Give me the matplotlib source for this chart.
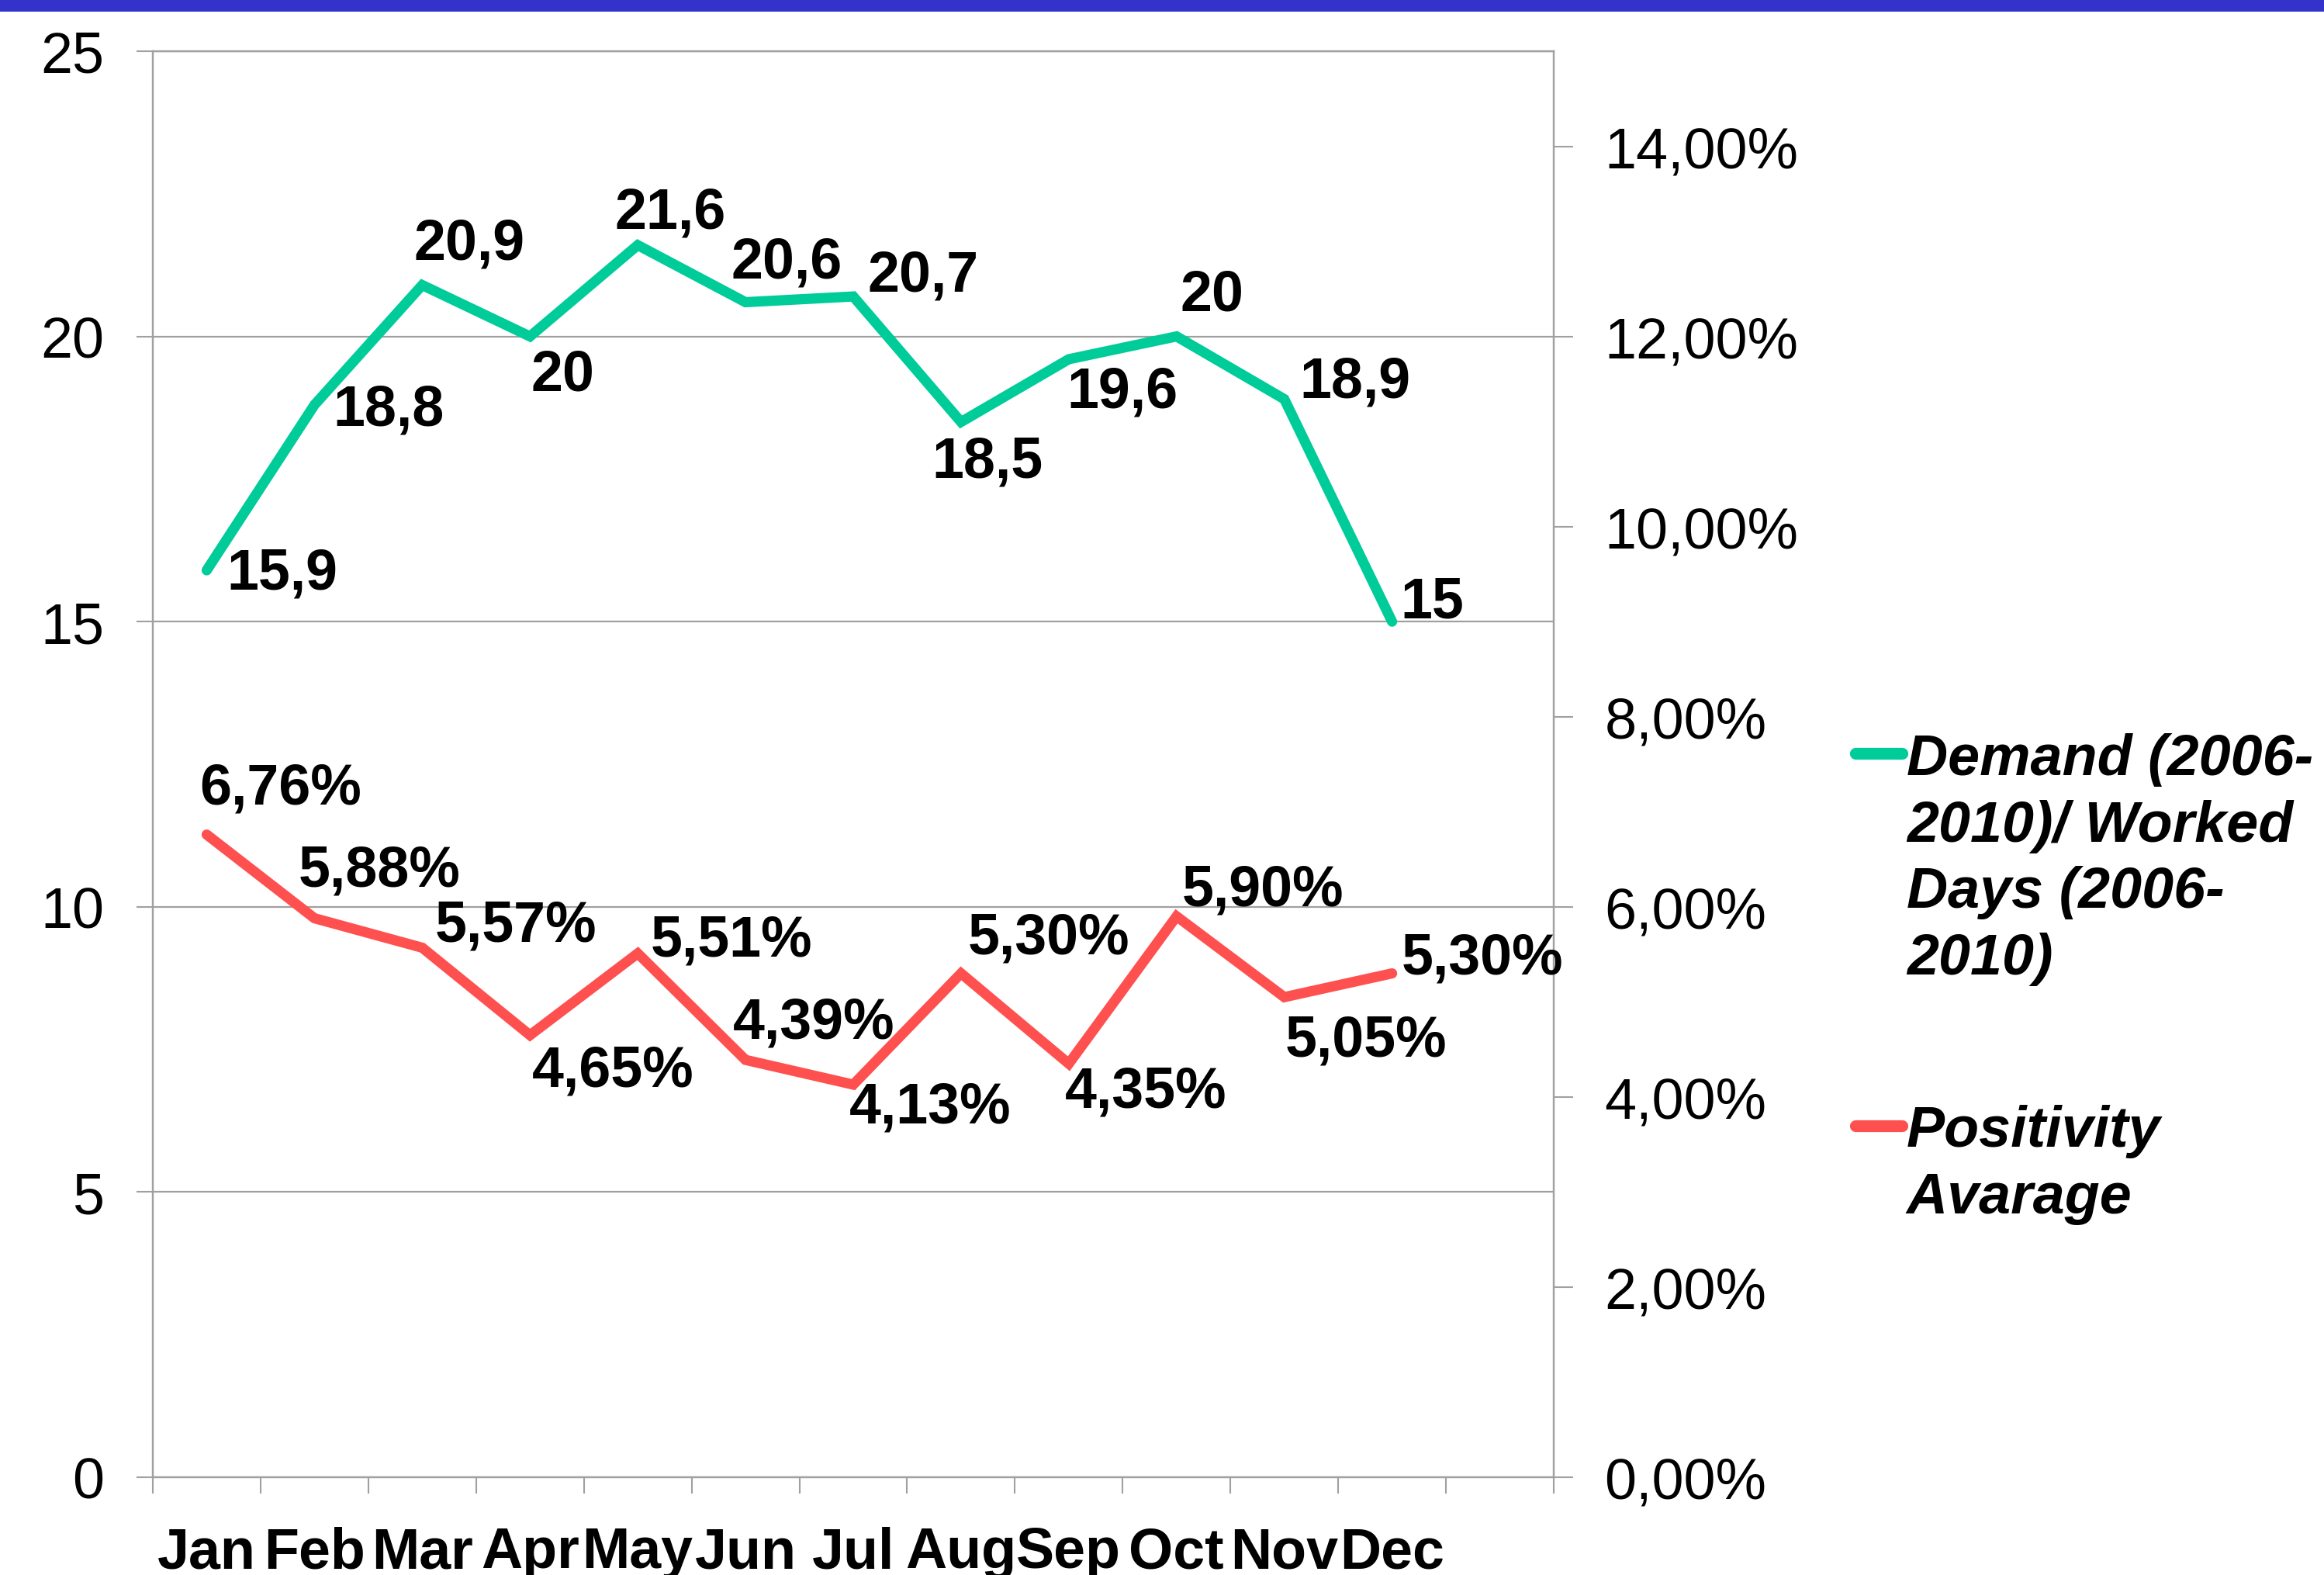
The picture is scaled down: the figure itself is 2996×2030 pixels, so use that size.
import numpy as np
import matplotlib
matplotlib.use("Agg")
import matplotlib.pyplot as plt
from matplotlib.lines import Line2D
from matplotlib.patches import Rectangle
from matplotlib.ticker import FuncFormatter, FixedLocator

plt.rcParams['font.family'] = ['Liberation Sans', 'DejaVu Sans']

# --- данные ---
months = ['Jan', 'Feb', 'Mar', 'Apr', 'May', 'Jun', 'Jul', 'Aug', 'Sep', 'Oct', 'Nov', 'Dec']
demand = [15.9, 18.8, 20.9, 20, 21.6, 20.6, 20.7, 18.5, 19.6, 20, 18.9, 15]
positivity = [6.76, 5.88, 5.57, 4.65, 5.51, 4.39, 4.13, 5.30, 4.35, 5.90, 5.05, 5.30]  # в %
legend_demand = ['Demand (2006-', '2010)/ Worked', 'Days (2006-', '2010)']
legend_pos = ['Positivity', 'Avarage']

# смещения подписей (в пикселях уменьшенной картинки: dx, dy вниз)
dem_off = [(51, 2), (50, 3), (32, -28), (22, 26), (22, -22), (28, -27),
           (47, -14), (18, 27), (36, 22), (24, -28), (48, -12), (27, -13)]
pos_off = [(50, -31), (44, -32), (63, -15), (56, 24), (63, -9), (46, -25),
           (52, 15), (59, -24), (52, 19), (58, -18), (55, 29), (61, -10)]
K = 1.376  # перевод в points

GREEN = '#00CC99'
RED = '#FF5050'
GRAY = '#A0A0A0'
FS = 53

W, H = 2996, 2031
fig = plt.figure(figsize=(W / 100, H / 100), dpi=100)
ax = fig.add_axes([197 / W, 1 - 1905 / H, (2003 - 197) / W, (1905 - 67) / H])
ax2 = ax.twinx()

x = np.arange(len(months)) + 0.5
ncat = len(months) + 1  # пустая 13-я категория

ax.set_xlim(0, ncat)
ax.set_ylim(0, 25)
ax2.set_ylim(0, 15)

ax.plot(x, demand, color=GREEN, lw=9.5, solid_capstyle='round', solid_joinstyle='miter', zorder=3)
ax2.plot(x, positivity, color=RED, lw=9.5, solid_capstyle='round', solid_joinstyle='miter', zorder=3)

for xi, v, (dx, dy) in zip(x, demand, dem_off):
    s = f'{v:g}'.replace('.', ',')
    ax.annotate(s, (xi, v), xytext=(dx * K, -dy * K), textcoords='offset points',
                ha='center', va='center', fontsize=FS, fontweight='bold')
for xi, v, (dx, dy) in zip(x, positivity, pos_off):
    s = f'{v:.2f}%'.replace('.', ',')
    ax2.annotate(s, (xi, v), xytext=(dx * K, -dy * K), textcoords='offset points',
                 ha='center', va='center', fontsize=FS, fontweight='bold')

# оси
ax.set_yticks(np.arange(0, 26, 5))
ax.yaxis.grid(True, color=GRAY, lw=1.6)
ax.set_axisbelow(True)
ax.tick_params(axis='y', direction='out', length=15, width=1.5, color=GRAY, labelsize=FS, pad=30)

ax.xaxis.set_major_locator(FixedLocator(np.arange(ncat + 1)))
ax.xaxis.set_minor_locator(FixedLocator(x))
ax.set_xticklabels([])
ax.set_xticklabels(months, minor=True, fontsize=FS, fontweight='bold')
ax.tick_params(axis='x', which='major', direction='out', length=15, width=1.5, color=GRAY)
ax.tick_params(axis='x', which='minor', length=0, pad=45)

ax2.set_yticks(np.arange(0, 15, 2))
ax2.yaxis.set_major_formatter(FuncFormatter(lambda v, p: f'{v:.2f}%'.replace('.', ',')))
ax2.tick_params(axis='y', direction='out', length=18, width=1.5, color=GRAY, labelsize=FS, pad=29)

for a in (ax, ax2):
    for sp in a.spines.values():
        sp.set_color(GRAY)
        sp.set_linewidth(1.6)

# легенда вручную
fig.add_artist(Line2D([2392 / W, 2452 / W], [1 - 972 / H] * 2, color=GREEN, lw=11,
                      solid_capstyle='round'))
fig.add_artist(Line2D([2392 / W, 2452 / W], [1 - 1452 / H] * 2, color=RED, lw=11,
                      solid_capstyle='round'))
for i, line in enumerate(legend_demand):
    fig.text(2458 / W, 1 - (999 + i * 85.6) / H, line, fontsize=FS, fontweight='bold',
             fontstyle='italic', va='baseline', ha='left')
for i, line in enumerate(legend_pos):
    fig.text(2458 / W, 1 - (1478 + i * 85.6) / H, line, fontsize=FS, fontweight='bold',
             fontstyle='italic', va='baseline', ha='left')

# синяя полоса сверху
fig.add_artist(Rectangle((0, 1 - 16 / H), 1, 16 / H, transform=fig.transFigure,
                         color='#3333CC', lw=0))

fig.savefig('out.png', dpi=100)
